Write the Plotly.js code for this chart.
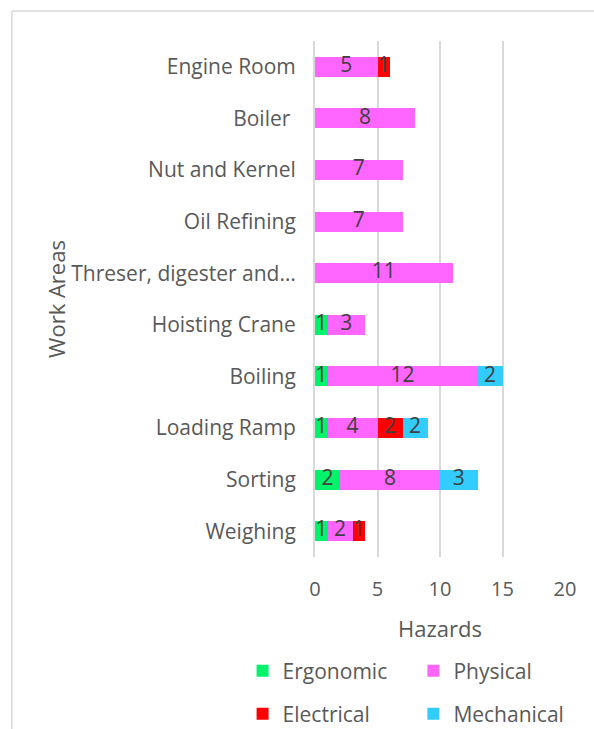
<!DOCTYPE html>
<html>
<head>
<meta charset="utf-8">
<script src="https://cdn.plot.ly/plotly-3.0.1.min.js"></script>
<style>
  html, body { margin: 0; padding: 0; background: #ffffff; }
  #chart { width: 594px; height: 729px; }
</style>
</head>
<body>
<div id="chart"></div>
<script>
// Work areas, listed bottom to top as they appear on the category axis
const workAreas = [
  'Weighing', 'Sorting', 'Loading Ramp', 'Boiling', 'Hoisting Crane',
  'Threser, digester and\u2026', 'Oil Refining', 'Nut and Kernel', 'Boiler\u00a0', 'Engine Room'
];

// Number of hazards per work area, by hazard type
const ergonomic  = [1, 2, 1, 1, 1, 0, 0, 0, 0, 0];
const physical   = [2, 8, 4, 12, 3, 11, 7, 7, 8, 5];
const electrical = [1, 0, 2, 0, 0, 0, 0, 0, 0, 1];
const mechanical = [0, 3, 2, 2, 0, 0, 0, 0, 0, 0];

const xTicks = [0, 5, 10, 15, 20];

const series = [
  { name: 'Ergonomic',  values: ergonomic,  color: '#00F36B', legend: 'legend'  },
  { name: 'Physical',   values: physical,   color: '#FF66FF', legend: 'legend2' },
  { name: 'Electrical', values: electrical, color: '#FF0000', legend: 'legend3' },
  { name: 'Mechanical', values: mechanical, color: '#33CCFF', legend: 'legend4' }
];

const FONT = 'Open Sans, Liberation Sans, sans-serif';
const GREY = '#595959';

const traces = [];
const base = workAreas.map(() => 0);

// stacked horizontal bars
series.forEach(s => {
  traces.push({
    type: 'bar',
    orientation: 'h',
    name: s.name,
    y: workAreas,
    x: s.values,
    legend: s.legend,
    marker: { color: s.color, line: { width: 0 } },
    hoverinfo: 'x+name'
  });
});

// value labels centred in each non-empty segment
series.forEach(s => {
  const xs = [], ys = [], txt = [];
  s.values.forEach((v, i) => {
    if (v > 0) {
      xs.push(base[i] + v / 2);
      ys.push(workAreas[i]);
      txt.push(String(v));
    }
    base[i] += v;
  });
  traces.push({
    type: 'scatter',
    mode: 'text',
    x: xs,
    y: ys,
    text: txt,
    textposition: 'middle center',
    textfont: { family: FONT, size: 21, color: '#404040' },
    showlegend: false,
    hoverinfo: 'skip'
  });
});

// plot area in pixels
const W = 594, H = 729;
const L = 314.5, R = 564.8, T = 41, B = 557;
const pw = R - L, ph = B - T;
const px = v => (v - L) / pw;
const py = v => (B - v) / ph;

// legend laid out as a 2x2 grid, one legend box per entry
const legendAt = (left, yPix) => ({
  x: px(left), xanchor: 'left',
  y: py(yPix), yanchor: 'middle',
  font: { family: FONT, size: 21, color: GREY },
  bgcolor: 'rgba(0,0,0,0)'
});

const layout = {
  width: W,
  height: H,
  margin: { l: L, r: W - R, t: T, b: H - B, pad: 0, autoexpand: false },
  paper_bgcolor: '#ffffff',
  plot_bgcolor: '#ffffff',
  font: { family: FONT, color: GREY, size: 21 },
  barmode: 'stack',
  bargap: 0.61,
  showlegend: true,
  xaxis: {
    range: [0, 20],
    tickvals: xTicks,
    ticktext: xTicks.map(String),
    showgrid: true,
    gridcolor: '#D9D9D9',
    gridwidth: 2,
    zeroline: false,
    showline: false,
    ticks: '',
    ticklabelstandoff: 18,
    tickfont: { family: FONT, size: 20, color: GREY },
    title: { text: 'Hazards', font: { family: FONT, size: 22, color: GREY }, standoff: 20 },
    fixedrange: true
  },
  yaxis: {
    type: 'category',
    categoryorder: 'array',
    categoryarray: workAreas,
    range: [-0.5, workAreas.length - 0.5],
    showgrid: false,
    zeroline: false,
    showline: true,
    linecolor: '#D9D9D9',
    linewidth: 2,
    ticks: '',
    ticklabelstandoff: 13,
    tickfont: { family: FONT, size: 21, color: GREY },
    title: { text: 'Work Areas', font: { family: FONT, size: 22, color: GREY }, standoff: 0 },
    fixedrange: true
  },
  legend:  legendAt(242, 671),
  legend2: legendAt(413, 671),
  legend3: legendAt(242, 714),
  legend4: legendAt(413, 714),
  // outer chart frame (left and top edges)
  shapes: [
    { type: 'line', xref: 'paper', yref: 'paper', x0: px(11), x1: px(11), y0: py(11), y1: py(H + 5),
      line: { color: '#D9D9D9', width: 1.5 }, layer: 'below' },
    { type: 'line', xref: 'paper', yref: 'paper', x0: px(11), x1: px(W + 5), y0: py(11), y1: py(11),
      line: { color: '#D9D9D9', width: 1.5 }, layer: 'below' }
  ]
};

Plotly.newPlot('chart', traces, layout, { displayModeBar: false, staticPlot: true });
</script>
</body>
</html>
